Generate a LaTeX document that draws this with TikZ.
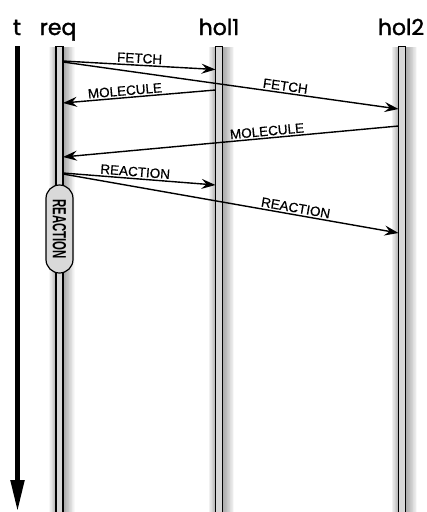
\documentclass[tikz,border=0pt]{standalone}
\usepackage{fontspec}
\setmainfont{Liberation Sans}
\newfontfamily\headfont[FakeBold=1.5]{Poppins}
\newfontfamily\labfont[FakeBold=0.4]{Liberation Sans}
\usetikzlibrary{arrows.meta,shapes.misc}
\begin{document}
\begin{tikzpicture}[x=1pt,y=-1pt,
  lifebar/.style={draw=black, line width=1.3pt, fill=black!16},
  msg/.style={-{Stealth[length=14pt,width=10pt,inset=5pt]}, line width=1.4pt},
  backmsg/.style={{Stealth[length=14pt,width=10pt,inset=5pt]}-, line width=1.4pt},
  msglabel/.style={font=\labfont\fontsize{13.5}{13.5}\selectfont, sloped, above, inner sep=1.5pt, pos=#1},
  head/.style={font=\headfont\fontsize{22}{22}\selectfont, anchor=base},
  glow/.style={fill=black, opacity=0.028}
]
\useasboundingbox (0,0) rectangle (427,512);
% shadows
\foreach \c in {59.5,219,402}{
  \foreach \i in {1,...,14}{
    \fill[glow] (\c-3.5-\i*0.55+1,47) rectangle (\c+3.5+\i*0.75+1,513);
  }
}
% lifelines
\foreach \c/\n in {59.5/reqline,219/holaline,402/holbline}{
  \node[lifebar, minimum width=7pt, minimum height=468pt, inner sep=0pt, anchor=north] (\n) at (\c,46) {};
}
% headers
\node[head] (tlab) at (17,35) {t};
\node[head] (reqlab) at (58,35) {req};
\node[head] (holalab) at (219,35) {hol1};
\node[head] (holblab) at (401,35) {hol2};
% time arrow
\coordinate (ttop) at (17.5,46);
\coordinate (tbot) at (17.5,512);
\draw[line width=5pt, -{Triangle[length=32pt,width=13pt]}] (ttop) -- (tbot);
% message endpoints
\coordinate (f1a) at (63,61);    \coordinate (f1b) at (215.5,69.5);
\coordinate (f2a) at (63,62);    \coordinate (f2b) at (398.5,109);
\coordinate (m1a) at (63,103);   \coordinate (m1b) at (215.5,90);
\coordinate (m2a) at (63,157);   \coordinate (m2b) at (398.5,126);
\coordinate (r1a) at (63,173);   \coordinate (r1b) at (215.5,185);
\coordinate (r2a) at (63,174);   \coordinate (r2b) at (398.5,233);
% messages
\draw[msg] (f1a) -- node[msglabel=0.5] (f1l) {FETCH} (f1b);
\draw[msg] (f2a) -- node[msglabel=0.66] (f2l) {FETCH} (f2b);
\draw[backmsg] (m1a) -- node[msglabel=0.41] (m1l) {MOLECULE} (m1b);
\draw[backmsg] (m2a) -- node[msglabel=0.61] (m2l) {MOLECULE} (m2b);
\draw[msg] (r1a) -- node[msglabel=0.47] (r1l) {REACTION} (r1b);
\draw[msg] (r2a) -- node[msglabel=0.69] (r2l) {REACTION} (r2b);
% reaction box
\node[draw, line width=1.2pt, fill=black!15, rounded rectangle, rotate=-90,
  minimum width=88pt, minimum height=27pt, inner sep=0pt,
  font=\bfseries\fontsize{19}{19}\selectfont] (reabox) at (59.5,229)
  {\scalebox{0.6}[1]{REACTION}};
\end{tikzpicture}
\end{document}
